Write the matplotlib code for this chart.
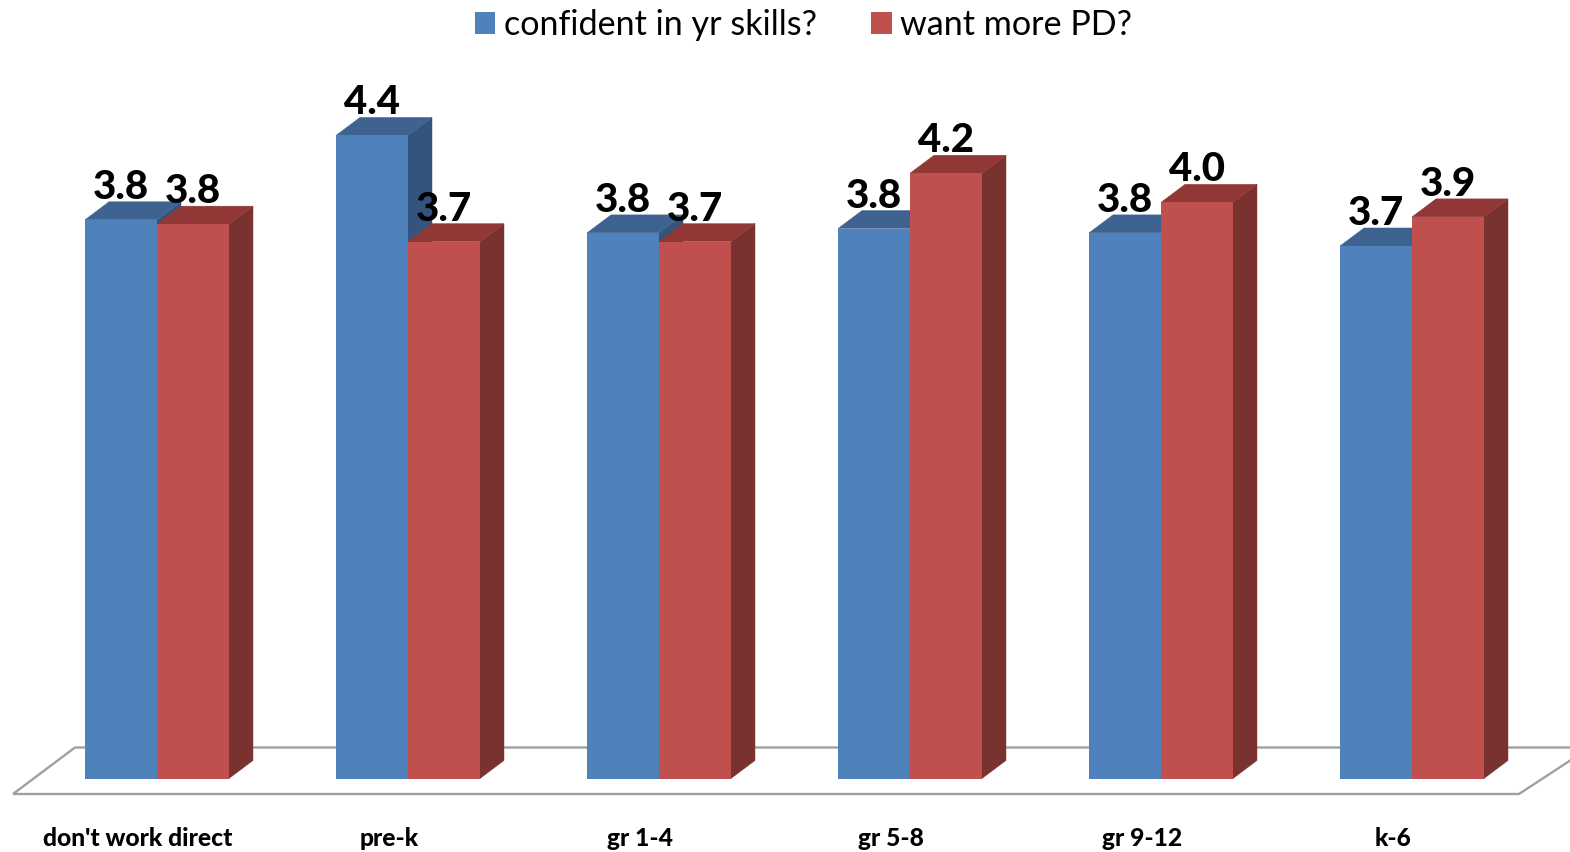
import numpy as np
import matplotlib
matplotlib.use("Agg")
import matplotlib.pyplot as plt
from matplotlib.patches import Polygon, Patch

categories = ["don't work direct", "pre-k", "gr 1-4", "gr 5-8", "gr 9-12", "k-6"]
confident = [3.84, 4.42, 3.75, 3.78, 3.75, 3.66]
want_pd = [3.81, 3.69, 3.69, 4.16, 3.96, 3.86]
conf_labels = ["3.8", "4.4", "3.8", "3.8", "3.8", "3.7"]
pd_labels = ["3.8", "3.7", "3.7", "4.2", "4.0", "3.9"]
series_names = ["confident in yr skills?", "want more PD?"]

W, H = 1570, 852
PX_X = 251.0      # pixels per category
PX_Y = 145.5      # pixels per value unit
X0, Y0 = 157.0, 778.5
bar_w = 72 / PX_X
dx, dy = 24 / PX_X, 18 / PX_Y

BLUE = ("#4F81BD", "#3E6390", "#34547D")
RED = ("#C0504D", "#913836", "#7A3230")
FONT = "Lato"

fig = plt.figure(figsize=(W / 100, H / 100), dpi=100, facecolor="white")
ax = fig.add_axes([0, 0, 1, 1])
ax.set_xlim(-X0 / PX_X, (W - X0) / PX_X)
ax.set_ylim(-(H - Y0) / PX_Y, Y0 / PX_Y)
ax.axis("off")

# floor of the 3D plot
floor = Polygon([(13 / W, 1 - 794 / H), (75 / W, 1 - 747.5 / H), (1590 / W, 1 - 747.5 / H), (1519 / W, 1 - 794 / H)],
                closed=True, fill=False, edgecolor="#A0A0A0", linewidth=1.7,
                transform=ax.transAxes, zorder=1, clip_on=True, joinstyle="miter")
ax.add_patch(floor)


def bar3d(x, v, cols, z):
    l, r = x, x + bar_w
    ax.add_patch(Polygon([(r, 0), (r + dx, dy), (r + dx, v + dy), (r, v)], closed=True,
                         facecolor=cols[2], edgecolor=cols[2], linewidth=0.3, zorder=z))
    ax.add_patch(Polygon([(l, v), (l + dx, v + dy), (r + dx, v + dy), (r, v)], closed=True,
                         facecolor=cols[1], edgecolor=cols[1], linewidth=0.3, zorder=z))
    ax.bar(x, v, width=bar_w, align="edge", color=cols[0], edgecolor="none", zorder=z + 0.5)


xs = np.arange(len(categories))
for i in xs:
    bar3d(i - bar_w, confident[i], BLUE, 2 + i)
    bar3d(i, want_pd[i], RED, 2.7 + i)
    ax.text(i - bar_w / 2, confident[i] + 21 / PX_Y, conf_labels[i], ha="center", va="baseline",
            fontsize=29, fontweight="black", family=FONT, color="black", zorder=20)
    ax.text(i + bar_w / 2, want_pd[i] + 21 / PX_Y, pd_labels[i], ha="center", va="baseline",
            fontsize=29, fontweight="black", family=FONT, color="black", zorder=20)
    ax.text(i - 19 / PX_X, -67 / PX_Y, categories[i], ha="center", va="baseline",
            fontsize=17.7, fontweight="black", family=FONT, color="black", zorder=20)

handles = [Patch(facecolor=BLUE[0], label=series_names[0]), Patch(facecolor=RED[0], label=series_names[1])]
fig.legend(handles=handles, loc="center", bbox_to_anchor=(803.5 / W, 1 - 25 / H), ncol=2, frameon=False,
           prop={"family": FONT, "size": 24.6}, handlelength=0.6, handleheight=0.6,
           handletextpad=0.25, columnspacing=1.6, borderpad=0, borderaxespad=0)

fig.savefig("out.png", dpi=100, facecolor="white")
